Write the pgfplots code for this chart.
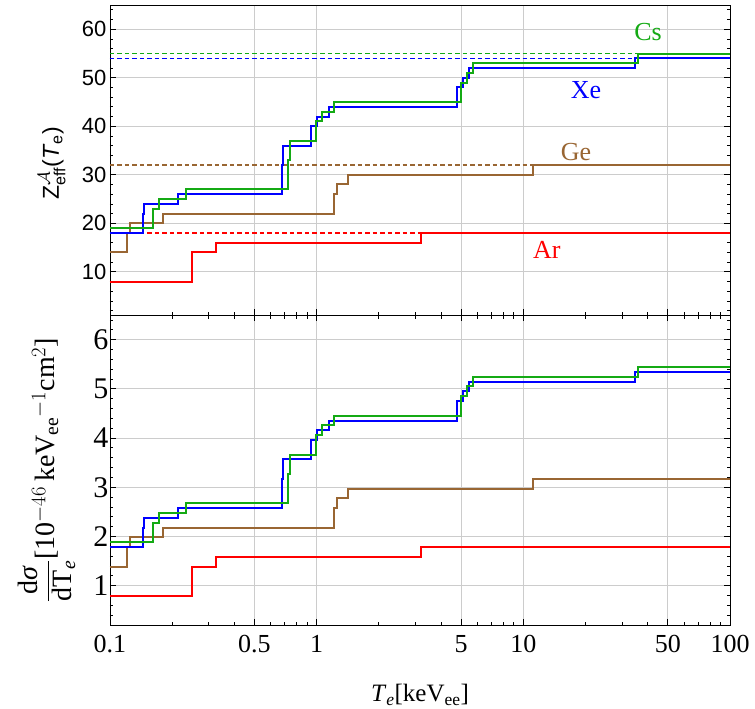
\documentclass[border=0pt]{standalone}
\usepackage{amsmath}
\usepackage{fontspec}
\setmainfont{Liberation Serif}
\setsansfont{Liberation Sans}
\usepackage{pgfplots}
\pgfplotsset{compat=1.18}
\definecolor{mgreen}{RGB}{20,170,20}
\definecolor{mbrown}{RGB}{153,102,51}
\definecolor{mred}{RGB}{255,0,0}
\definecolor{mblue}{RGB}{0,0,255}
\newcommand{\serif}{\fontsize{25}{30}\selectfont}
\newcommand{\xtickfont}{\fontsize{26}{30}\selectfont}
\newcommand{\ytickfont}{\fontsize{30}{34}\selectfont}
\newcommand{\sans}{\sffamily\fontsize{22}{26}\selectfont}
\pgfplotsset{
  common/.style={
    scale only axis, width=620pt, height=310pt,
    xmin=0.1, xmax=100,
    xtick={0.1,0.5,1,5,10,50,100},
    minor xtick={0.2,0.3,0.4,0.6,0.7,0.8,0.9,2,3,4,6,7,8,9,20,30,40,60,70,80,90},
    major grid style={gray!40, line width=0.8pt},
    grid=major,
    axis line style={black, line width=0.9pt},
    major tick length=6pt, minor tick length=3.5pt,
    tick style={black, line width=0.8pt},
    /pgf/number format/assume math mode=true,
    tick align=inside,
    ytick pos=both,
  },
  dsh/.style={dash pattern=on 4.5pt off 3pt, line width=1.5pt, forget plot},
  stp/.style={const plot, line width=2pt},
}
\begin{document}
\begin{tikzpicture}
\useasboundingbox (0,0) rectangle (755pt,-709pt);
% top panel
\begin{semilogxaxis}[common,
  at={(110pt,-315pt)}, anchor=south west,
  ymin=1.1, ymax=65,
  ytick={10,20,30,40,50,60},
  minor ytick={2,4,6,8,12,14,16,18,22,24,26,28,32,34,36,38,42,44,46,48,52,54,56,58,62,64},
  xtick pos=bottom,
  xticklabels={},
  yticklabel style={font=\sans},
  ylabel={\sffamily\fontsize{23}{27}\selectfont Z$^{\mathcal{A}}_{\text{eff}}$(\textit{T}$_{\text{e}}$)},
  ylabel style={at={(axis description cs:-0.094,0.49)}, anchor=center},
]
% dashed asymptotes
\addplot[dsh, draw=mred, color=mred] coordinates {(0.1,18) (3.2059,18)};
\addplot[dsh, draw=mbrown, color=mbrown] coordinates {(0.1,32) (11.103,32)};
\addplot[dsh, draw=mblue, color=mblue] coordinates {(0.1,54) (34.56,54)};
\addplot[dsh, draw=mgreen, color=mgreen] coordinates {(0.1,55) (35.985,55)};
% Ar
\addplot[stp, draw=mred] coordinates {
 (0.1,8) (0.2484,12) (0.2506,14) (0.3263,16) (3.2059,18) (100,18)};
% Ge
\addplot[stp, draw=mbrown] coordinates {
 (0.1,14) (0.1208,18) (0.1249,20) (0.1801,22) (1.217,26) (1.248,28) (1.4146,30) (11.103,32) (100,32)};
% Xe
\addplot[stp, draw=mblue] coordinates {
 (0.1,18) (0.145,22) (0.146,24) (0.213,26) (0.676,32) (0.689,36) (0.941,40) (1.002,42) (1.149,44) (4.786,48) (5.107,50) (5.453,52) (34.56,54) (100,54)};
% Cs
\addplot[stp, draw=mgreen] coordinates {
 (0.1,19) (0.162,23) (0.172,25) (0.232,27) (0.726,33) (0.740,37) (0.998,41) (1.065,43) (1.217,45) (5.012,49) (5.359,51) (5.714,53) (35.985,55) (100,55)};
\node[text=mgreen, font=\fontsize{26}{30}\selectfont] at (axis cs:40.1,59.4) {Cs};
\node[text=mblue, font=\fontsize{26}{30}\selectfont] at (axis cs:20.1,47.5) {Xe};
\node[text=mbrown, font=\fontsize{26}{30}\selectfont] at (axis cs:18.0,34.7) {Ge};
\node[text=mred, font=\fontsize{26}{30}\selectfont] at (axis cs:13.0,14.5) {Ar};
\end{semilogxaxis}
% bottom panel
\begin{semilogxaxis}[common,
  at={(110pt,-625pt)}, anchor=south west,
  ymin=0.2, ymax=6.5,
  ytick={1,2,3,4,5,6},
  minor ytick={0.4,0.6,0.8,1.2,1.4,1.6,1.8,2.2,2.4,2.6,2.8,3.2,3.4,3.6,3.8,4.2,4.4,4.6,4.8,5.2,5.4,5.6,5.8,6.2,6.4},
  xtick pos=both,
  xticklabels={0.1,0.5,1,5,10,50,100},
  xticklabel style={font=\xtickfont, yshift=-7pt},
  yticklabel style={font=\ytickfont, xshift=2pt},
  xlabel={\serif\textit{T}$_{\textit{e}}$[keV$_{\text{ee}}$]},
  xlabel style={at={(axis description cs:0.5,-0.226)}, anchor=center},
  ylabel={\fontsize{28}{32}\selectfont $\displaystyle\frac{\text{d}\textit{σ}}{\text{dT}_{\textit{e}}}$[10$^{-46}$\,keV$_{\text{ee}}{}^{-1}$cm$^{2}$]},
  ylabel style={at={(axis description cs:-0.102,0.50)}, anchor=center},
]
% Ar
\addplot[stp, draw=mred] coordinates {
 (0.1,0.792) (0.2484,1.188) (0.2506,1.386) (0.3263,1.584) (3.2059,1.782) (100,1.782)};
% Ge
\addplot[stp, draw=mbrown] coordinates {
 (0.1,1.386) (0.1208,1.782) (0.1249,1.98) (0.1801,2.178) (1.217,2.574) (1.248,2.772) (1.4146,2.97) (11.103,3.168) (100,3.168)};
% Xe
\addplot[stp, draw=mblue] coordinates {
 (0.1,1.782) (0.145,2.178) (0.146,2.376) (0.213,2.574) (0.676,3.168) (0.689,3.564) (0.941,3.96) (1.002,4.158) (1.149,4.356) (4.786,4.752) (5.107,4.95) (5.453,5.148) (34.56,5.346) (100,5.346)};
% Cs
\addplot[stp, draw=mgreen] coordinates {
 (0.1,1.881) (0.162,2.277) (0.172,2.475) (0.232,2.673) (0.726,3.267) (0.740,3.663) (0.998,4.059) (1.065,4.257) (1.217,4.455) (5.012,4.851) (5.359,5.049) (5.714,5.247) (35.985,5.445) (100,5.445)};
\end{semilogxaxis}
\end{tikzpicture}
\end{document}
